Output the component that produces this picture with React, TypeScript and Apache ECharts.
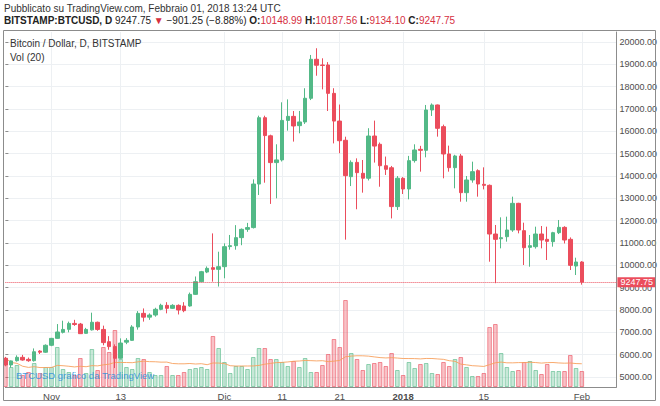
import React, { useEffect, useRef } from "react";
import * as echarts from "echarts";

// ---------- data ----------
const startDay = Date.UTC(2017, 9, 24); // first category: 2017-10-24
const dayCount = 107; // axis runs to 2018-02-07 (empty days on the right)
const categories: string[] = [];
for (let i = 0; i < dayCount; i++) {
  categories.push(new Date(startDay + i * 86400000).toISOString().slice(0, 10));
}

const tickDates = ["2017-11-01", "2017-11-13", "2017-12-01", "2017-12-11", "2017-12-21", "2018-01-01", "2018-01-15", "2018-02-01"];
const tickTexts = ["Nov", "13", "Dic", "11", "21", "2018", "15", "Feb"];

const opens = [
  5840, 5540, 5730, 5880, 5790, 5730, 6160, 6110, 6420, 6730,
  7000, 7134, 7400, 7370, 6955, 7110, 7450, 7130, 6580, 6360,
  5840, 6560, 6640, 7240, 7850, 7680, 7775, 8030, 8208, 8075,
  8208, 8178, 8180, 8700, 9268, 9700, 9895, 9820, 9940, 10840,
  10880, 11240, 11612, 11690, 13640, 16610, 15800, 14600, 14720, 16490,
  16670, 16255, 16420, 17480, 19226, 18970, 18970, 17700, 16460, 15600,
  13970, 14610, 14120, 13900, 15790, 15420, 14460, 14370, 12630, 13896,
  13420, 14690, 15195, 15150, 16956, 17180, 16210, 14986, 14373, 14896,
  13254, 13821, 14239, 13627, 13582, 11402, 11190, 11283, 11582, 12776,
  11552, 10805, 10835, 11402, 11164, 11059, 11462, 11701, 11164, 9970,
  10148.99,
];
const closes = [
  5540, 5720, 5880, 5760, 5730, 6130, 6110, 6420, 6730, 7015,
  7130, 7400, 7350, 6940, 7130, 7450, 7130, 6540, 6360, 5840,
  6520, 6640, 7240, 7850, 7680, 7775, 8030, 8210, 8075, 8208,
  8000, 7970, 8700, 9268, 9716, 9865, 9820, 9940, 10836, 10880,
  11240, 11612, 11690, 13640, 16610, 15810, 14600, 14720, 16490, 16670,
  16240, 16420, 17480, 19226, 18960, 18950, 17700, 16460, 15580, 14015,
  14610, 14150, 13900, 15790, 15340, 14460, 14300, 12630, 13900, 13418,
  14687, 15165, 15150, 16956, 17180, 16135, 14986, 14373, 14896, 13254,
  13821, 14194, 13642, 13582, 11402, 11164, 11238, 11582, 12776, 11582,
  10790, 10880, 11402, 11134, 11074, 11462, 11701, 11134, 9999, 10149,
  9247.75,
];
const lows = [
  5480, 5420, 5690, 5730, 5680, 5690, 6030, 6080, 6380, 6720,
  6950, 7000, 7290, 6930, 6940, 7080, 7070, 6420, 6220, 5400,
  5820, 6470, 6620, 7120, 7480, 7560, 7700, 7990, 7850, 8050,
  7800, 7900, 8150, 8680, 9250, 9650, 9270, 9050, 9420, 10700,
  10700, 10900, 11500, 11650, 13150, 13700, 12750, 13000, 14650, 16030,
  15540, 15912, 16330, 17400, 18490, 17880, 16910, 15460, 15020, 11150,
  13550, 12510, 13254, 13800, 14600, 13520, 14046, 12100, 12478, 13194,
  12956, 14600, 14194, 14836, 16688, 15762, 13896, 14194, 13448, 12850,
  12850, 13700, 13075, 13400, 10163, 9200, 10760, 11060, 11500, 11432,
  10014, 9939, 10750, 10760, 10238, 10835, 11400, 10980, 9790, 9566,
  9134.1,
];
const highs = [
  5900, 5740, 5970, 5990, 5870, 6280, 6200, 6460, 6750, 7370,
  7520, 7480, 7560, 7420, 7200, 7880, 7480, 7300, 6830, 6460,
  6730, 6740, 7320, 7950, 8070, 7850, 8100, 8280, 8350, 8260,
  8250, 8350, 8780, 9500, 9750, 9950, 11430, 10610, 10985, 11360,
  11800, 11650, 11900, 13850, 16700, 16700, 15850, 15420, 17300, 17430,
  16910, 16912, 17930, 19420, 19720, 19270, 19100, 17930, 17200, 15760,
  14700, 14790, 14717, 16140, 16480, 15500, 14870, 14450, 14000, 13950,
  14900, 15419, 15350, 17180, 17250, 17200, 16300, 15359, 14950, 14990,
  14000, 14642, 14300, 14388, 13620, 11806, 12149, 12179, 13075, 12800,
  11910, 11358, 11731, 11761, 11731, 11500, 12030, 11750, 11250, 10342,
  10187.56,
];
const volumes = [
  11600, 8000, 8800, 4800, 6000, 9600, 5600, 8000, 8000, 16000,
  7200, 6000, 4800, 11600, 5600, 15200, 6800, 16000, 14000, 22800,
  11200, 8000, 7200, 11600, 11200, 6000, 4800, 4800, 8400, 4800,
  4800, 6000, 7200, 7600, 8000, 7200, 20400, 15600, 10000, 5600,
  8400, 8400, 7200, 12000, 15600, 15600, 11200, 11200, 10000, 8400,
  10400, 8000, 11600, 6000, 6000, 8800, 13200, 19200, 16000, 34800,
  13600, 11200, 6800, 9200, 9600, 10000, 8400, 13600, 6800, 4800,
  10000, 7600, 9200, 9600, 5600, 5200, 10000, 8400, 11200, 12000,
  8000, 4400, 4400, 5600, 24000, 25200, 13600, 8000, 6400, 6800,
  10000, 10400, 6800, 5200, 9200, 6400, 6400, 6400, 12800, 7600,
  6400,
];
const volMaPeriod = 20;
const lastPrice = 9247.75;

// ---------- styles ----------
const UP = "#53b987";
const DOWN = "#eb4d5c";
const FONT = "Liberation Sans, Arial, sans-serif";
const AXIS = "#8c8c8c";
const GRIDLINE = "#edf0f3";

export default function App() {
  const ref = useRef<HTMLDivElement>(null);

  useEffect(() => {
    if (!ref.current) return;
    const chart = echarts.init(ref.current, null, { renderer: "svg" });

    const candleData = opens.map((o, i) => [o, closes[i], lows[i], highs[i]]);
    const volData = volumes.map((v, i) => {
      const up = closes[i] >= opens[i];
      return {
        value: v,
        itemStyle: {
          color: up ? "rgba(83,185,135,0.32)" : "rgba(235,77,92,0.34)",
          borderColor: up ? "rgba(83,185,135,0.6)" : "rgba(235,77,92,0.6)",
          borderWidth: 1,
        },
      };
    });
    const volMa = volumes.map((_, i) => {
      const s = Math.max(0, i - volMaPeriod + 1);
      const w = volumes.slice(s, i + 1);
      return w.reduce((a, b) => a + b, 0) / w.length;
    });

    const isTick = (_idx: number, val: string) => tickDates.indexOf(val) >= 0;

    const gridLeft = 5.4;
    const gridRight = 43.6;

    chart.setOption({
      animation: false,
      backgroundColor: "#ffffff",
      textStyle: { fontFamily: FONT },
      grid: [
        { left: gridLeft, right: gridRight, top: 32, bottom: 19 },
        { left: gridLeft, right: gridRight, top: 42, bottom: 29 },
      ],
      xAxis: [
        {
          type: "category",
          gridIndex: 0,
          data: categories,
          boundaryGap: false,
          axisLine: { show: true, lineStyle: { color: AXIS } },
          axisTick: { show: false },
          axisLabel: {
            interval: isTick,
            margin: 4,
            fontSize: 9.5,
            color: "#4d4d4d",
            fontFamily: FONT,
            formatter: (val: string) => {
              const k = tickDates.indexOf(val);
              if (k < 0) return "";
              const t = tickTexts[k];
              return /^\d{4}$/.test(t) ? "{b|" + t + "}" : t;
            },
            rich: { b: { fontWeight: "bold", fontSize: 9.5, color: "#4d4d4d", fontFamily: FONT } },
          },
          splitLine: { show: true, interval: isTick, lineStyle: { color: GRIDLINE, width: 1 } },
        },
        { type: "value", gridIndex: 1, show: false, min: 0, max: 1 },
      ],
      yAxis: [
        {
          type: "value",
          gridIndex: 0,
          position: "right",
          min: 4552,
          max: 20448,
          axisLine: { show: true, lineStyle: { color: AXIS } },
          axisTick: { show: false },
          axisLabel: { show: false },
          splitLine: { show: false },
        },
        { type: "value", gridIndex: 0, min: 0, max: 142000, show: false, splitLine: { show: false } },
        {
          type: "value",
          gridIndex: 1,
          position: "right",
          min: 5000,
          max: 20000,
          interval: 1000,
          axisLine: { show: false },
          axisTick: { show: true, length: 3, lineStyle: { color: AXIS } },
          axisLabel: {
            margin: 3,
            fontSize: 9,
            color: "#4d4d4d",
            fontFamily: FONT,
            formatter: (v: number) => v.toFixed(2),
          },
          splitLine: { show: true, lineStyle: { color: GRIDLINE, width: 1 } },
        },
      ],
      series: [
        {
          type: "bar",
          xAxisIndex: 0,
          yAxisIndex: 1,
          data: volData,
          barWidth: 4.6,
          z: 1,
          silent: true,
        },
        {
          type: "line",
          xAxisIndex: 0,
          yAxisIndex: 1,
          data: volMa,
          symbol: "none",
          lineStyle: { color: "#f7a15e", width: 1, opacity: 0.9 },
          z: 2,
          silent: true,
        },
        {
          type: "candlestick",
          xAxisIndex: 0,
          yAxisIndex: 0,
          data: candleData,
          barWidth: 4,
          z: 3,
          itemStyle: { color: UP, color0: DOWN, borderColor: UP, borderColor0: DOWN, borderWidth: 1 },
          markLine: {
            silent: true,
            symbol: ["none", "none"],
            animation: false,
            lineStyle: { color: DOWN, type: "dotted", width: 1 },
            label: {
              show: true,
              position: "end",
              distance: 1,
              formatter: lastPrice.toFixed(2),
              backgroundColor: DOWN,
              color: "#ffffff",
              fontSize: 9,
              fontFamily: FONT,
              padding: [1, 3, 0, 3],
            },
            data: [{ yAxis: lastPrice }],
          },
        },
      ],
      graphic: [
        {
          type: "rect",
          shape: { x: 3.5, y: 30.5, width: 652, height: 370 },
          style: { fill: "none", stroke: AXIS, lineWidth: 1 },
          silent: true,
          z: 10,
        },
        {
          type: "text",
          left: 4,
          top: 3,
          style: {
            text: "Pubblicato su TradingView.com, Febbraio 01, 2018 13:24 UTC",
            fontSize: 10,
            fontFamily: FONT,
            fill: "#333333",
          },
          z: 10,
        },
        {
          type: "text",
          left: 4,
          top: 15,
          style: {
            text:
              "{b|BITSTAMP:BTCUSD, D} {n|9247.75} {r|▼} {n|−901.25 (−8.88%)} {b|O:}{r|10148.99} {b|H:}{r|10187.56} {b|L:}{r|9134.10} {b|C:}{r|9247.75}",
            fontSize: 10,
            fontFamily: FONT,
            rich: {
              b: { fontWeight: "bold", fontSize: 10, fill: "#222222", fontFamily: FONT },
              n: { fontSize: 10, fill: "#222222", fontFamily: FONT },
              r: { fontSize: 10, fill: "#d6303f", fontFamily: FONT },
            },
          },
          z: 10,
        },
        {
          type: "text",
          left: 10,
          top: 38,
          style: { text: "Bitcoin / Dollar, D, BITSTAMP", fontSize: 10, fontFamily: FONT, fill: "#333333" },
          z: 10,
        },
        {
          type: "text",
          left: 10,
          top: 52,
          style: { text: "Vol (20)", fontSize: 10, fontFamily: FONT, fill: "#333333" },
          z: 10,
        },
        {
          type: "text",
          left: 16,
          top: 370,
          style: {
            text: "BTCUSD grafico da TradingView",
            fontSize: 9.5,
            fontFamily: FONT,
            fill: "rgba(40,140,220,0.85)",
          },
          z: 10,
        },
      ],
    });

    return () => chart.dispose();
  }, []);

  return (
    <div
      ref={ref}
      style={{ position: "fixed", left: 0, top: 0, width: 660, height: 406, background: "#ffffff" }}
    />
  );
}
